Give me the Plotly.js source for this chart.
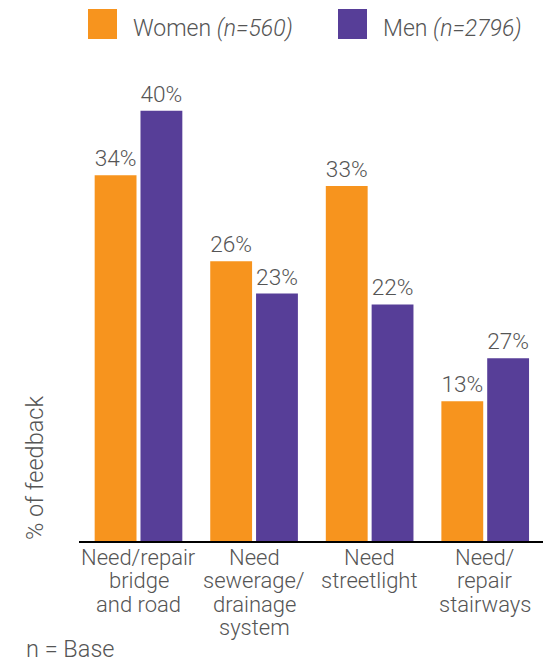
<!DOCTYPE html>
<html>
<head>
<meta charset="utf-8">
<script src="https://cdn.plot.ly/plotly-3.0.1.min.js"></script>
<style>html,body{margin:0;padding:0;background:#fff;}#chart{width:551px;height:662px;}</style>
</head>
<body>
<div id="chart"></div>
<script>
// Category keys and their printed (multi-line) labels
const categories = ["Need/repair bridge and road", "Need sewerage/drainage system", "Need streetlight", "Need/repair stairways"];
const categoryLines = [["Need/repair", "bridge", "and road"], ["Need", "sewerage/", "drainage", "system"], ["Need", "streetlight"], ["Need/", "repair", "stairways"]];
// Bar heights as drawn in the picture, and the labels printed above them
const womenHeights = [34, 26, 33, 13];
const womenLabels = ["34%", "26%", "33%", "13%"];
const menHeights = [40, 23, 22, 17];
const menLabels = ["40%", "23%", "22%", "27%"];
const seriesNames = ["Women", "Men"];
const seriesNotes = ["(n=560)", "(n=2796)"];
const colors = ["#F7941E", "#573E98"];

const FONT = {family: "Roboto, 'Open Sans', sans-serif", weight: 300, color: "#555555"};
const f = size => Object.assign({}, FONT, {size: size});
const L = 79, R = 543, B = 541, T = 57;
const px = v => (v - L) / (R - L);
const py = v => (B - v) / (B - T);

const traces = [[womenHeights, womenLabels], [menHeights, menLabels]].map(([vals, labels], i) => ({
  type: "bar",
  x: categories,
  y: vals,
  name: seriesNames[i],
  marker: {color: colors[i], line: {width: 0}},
  text: labels,
  textposition: "outside",
  textfont: f(23),
  cliponaxis: false,
  hoverinfo: "none"
}));

const shapes = [], annotations = [];
// legend
const legendSq = [88, 338];
legendSq.forEach((x, i) => {
  shapes.push({type: "rect", xref: "paper", yref: "paper", x0: px(x), x1: px(x + 29), y0: py(39), y1: py(9), fillcolor: colors[i], line: {width: 0}});
  annotations.push({xref: "paper", yref: "paper", x: px(x + 43), y: py(28), xanchor: "left", yanchor: "middle", showarrow: false,
    text: seriesNames[i] + " <i>" + seriesNotes[i] + "</i>", font: f(23)});
});
// category labels, one line at a time (tight line spacing)
categoryLines.forEach((lines, ci) => {
  lines.forEach((line, li) => {
    annotations.push({xref: "x", yref: "paper", x: categories[ci], y: py(557.5 + li * 23.3), xanchor: "center", yanchor: "middle",
      showarrow: false, text: line, font: f(22)});
  });
});
// y title and base note
annotations.push({xref: "paper", yref: "paper", x: px(35), y: py(468), textangle: -90, xanchor: "center", yanchor: "middle", showarrow: false,
  text: "% of feedback", font: f(23.5)});
annotations.push({xref: "paper", yref: "paper", x: px(24), y: py(649), xanchor: "left", yanchor: "middle", showarrow: false,
  text: "n = Base", font: f(23.5)});

const layout = {
  width: 551, height: 662,
  margin: {l: L, r: 551 - R, t: T, b: 662 - B, pad: 0},
  paper_bgcolor: "#fff", plot_bgcolor: "#fff",
  showlegend: false,
  barmode: "group",
  bargap: 0.207,
  bargroupgap: 0.087,
  font: FONT,
  xaxis: {showline: true, linecolor: "#000", linewidth: 2, ticks: "", showticklabels: false, showgrid: false, zeroline: false, fixedrange: true},
  yaxis: {range: [0, 45], showticklabels: false, showgrid: false, zeroline: false, showline: false, ticks: "", fixedrange: true},
  shapes: shapes,
  annotations: annotations
};

Plotly.newPlot("chart", traces, layout, {displayModeBar: false, staticPlot: true});
</script>
</body>
</html>
